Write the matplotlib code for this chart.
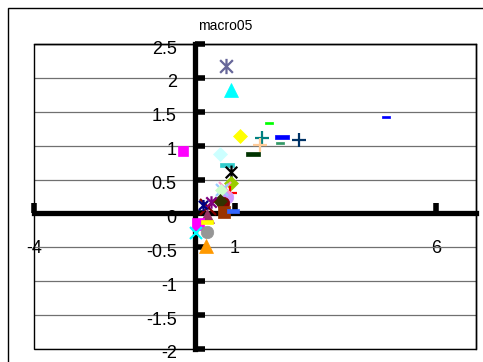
import numpy as np
import matplotlib
matplotlib.use("Agg")
import matplotlib.pyplot as plt
from matplotlib.path import Path
from matplotlib.patches import Rectangle
from matplotlib.transforms import ScaledTranslation

plt.rcParams['font.family'] = ['Liberation Sans', 'DejaVu Sans']
plt.rcParams['axes.unicode_minus'] = False

# scatter points of macro05
x_vals = [0.78, 0.90, 1.85, 1.12, 1.67, 2.17, 2.59, 2.12, 1.62, 1.45,
          4.76, -0.29, 0.63, 0.80, 0.90, 0.90, 0.88, 0.80, 0.75, 0.68,
          0.65, 0.70, 0.63, 0.33, 0.40, 0.21, 0.73, 0.95, 0.30, 0.08,
          0.30, 0.03, 0.30, 0.28]
y_vals = [2.18, 1.82, 1.33, 1.14, 1.11, 1.13, 1.08, 1.04, 1.01, 0.88,
          1.42, 0.92, 0.88, 0.72, 0.61, 0.45, 0.30, 0.24, 0.38, 0.35,
          0.35, 0.15, 0.18, 0.10, 0.17, 0.13, 0.02, 0.04, -0.04, -0.15,
          -0.13, -0.29, -0.27, -0.48]

y_ticks = [-2, -1.5, -1, -0.5, 0, 0.5, 1, 1.5, 2, 2.5]
x_ticks = [-4, 1, 6]

# marker shapes
star = Path([(-1, -1), (1, 1), (-1, 1), (1, -1), (0, -1.2), (0, 1.2)],
            [Path.MOVETO, Path.LINETO, Path.MOVETO, Path.LINETO, Path.MOVETO, Path.LINETO])
dash = Path([(-1, -0.3), (1, -0.3), (1, 0.3), (-1, 0.3), (-1, -0.3)],
            [Path.MOVETO, Path.LINETO, Path.LINETO, Path.LINETO, Path.CLOSEPOLY])
shapes = {'star': star, 'dash': dash}

styles = [('star', '#666699', 11), ('^', '#00FFFF', 10), ('dash', '#00FF00', 6),
          ('D', '#FFFF00', 7.5), ('+', '#008080', 10), ('dash', '#0000FF', 10),
          ('+', '#003366', 10), ('dash', '#339966', 6), ('+', '#FFCC99', 10),
          ('dash', '#003300', 10), ('dash', '#0000FF', 6), ('s', '#FF00FF', 7.5),
          ('D', '#CCFFFF', 7.5), ('dash', '#33CCCC', 10), ('star', '#000000', 10),
          ('D', '#99CC00', 7.5), ('+', '#FF0000', 10), ('o', '#CC99FF', 9),
          ('x', '#FF99CC', 8), ('x', '#99CCFF', 8), ('D', '#CCFFCC', 6),
          ('o', '#800000', 9), ('D', '#333300', 7), ('x', '#800000', 12),
          ('star', '#800080', 9), ('star', '#000080', 8), ('s', '#993300', 8),
          ('dash', '#3366FF', 8), ('^', '#993366', 10), ('s', '#FF00FF', 8),
          ('dash', '#FFFF00', 8), ('x', '#00FFFF', 9), ('o', '#969696', 9),
          ('^', '#FF9900', 10)]

fig = plt.figure(figsize=(4.83, 3.62), dpi=100)
fig.patches.append(Rectangle((8/483, -0.1), 1.2, 1.1 - 8/362, transform=fig.transFigure,
                             fill=False, ec='black', lw=1))
fig.text(225/483, 1 - 26/362, 'macro05', ha='center', va='center', fontsize=10)

ax = fig.add_axes([34/483, 13/362, 442/483, 305/362])
ax.set_xlim(-4, 7)
ax.set_ylim(-2, 2.5)

for xv, yv, (m, c, s) in zip(x_vals, y_vals, styles):
    mk = shapes.get(m, m)
    filled = m in ('^', 'D', 's', 'o', 'dash')
    ax.plot([xv], [yv], ls='none', marker=mk, ms=s, color=c,
            mfc=c if filled else 'none', mec=c, mew=1.6 if not filled else 0.5,
            zorder=3, clip_on=False)

ax.spines['left'].set_position(('data', 0))
ax.spines['bottom'].set_position(('data', 0))
ax.spines['left'].set_linewidth(3.8)
ax.spines['bottom'].set_linewidth(3.8)
ax.spines['left'].set_zorder(2.5)
ax.spines['bottom'].set_zorder(2.5)
for side in ('top', 'right'):
    ax.spines[side].set_linewidth(1)
ax.add_patch(Rectangle((0, 0), 1, 1, transform=ax.transAxes, fill=False,
                       ec='black', lw=1, zorder=2.4, clip_on=False))

ax.set_yticks(y_ticks)
ax.set_yticklabels(['%g' % v for v in y_ticks])
ax.set_xticks(x_ticks)
ax.set_xticklabels(['%g' % v for v in x_ticks])
ax.tick_params(axis='y', direction='in', length=7, width=4, pad=13, labelsize=13)
ax.tick_params(axis='x', direction='in', length=7, width=4, pad=19, labelsize=13)
off = ScaledTranslation(0, -3/100, fig.dpi_scale_trans)
for lab in ax.get_yticklabels():
    lab.set_transform(lab.get_transform() + off)

ax.yaxis.grid(True, color='#707070', lw=0.9)
ax.set_axisbelow(True)

fig.savefig('out.png', dpi=100)
